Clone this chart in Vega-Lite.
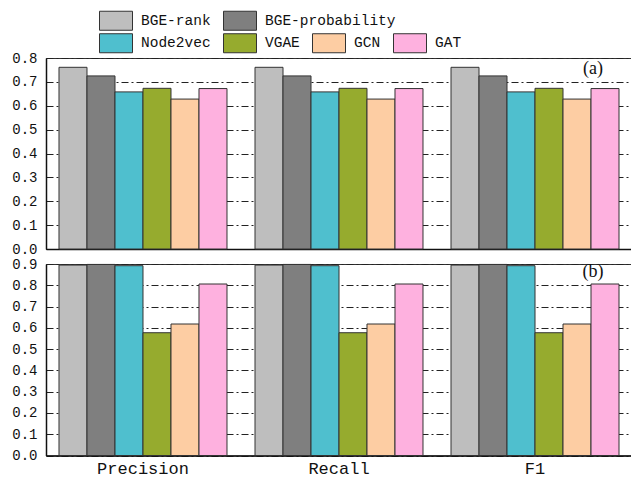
{
  "$schema": "https://vega.github.io/schema/vega-lite/v6.json",
  "padding": {"left": 0, "top": 3, "right": 0, "bottom": 4},
  "background": "white",
  "datasets": {
    "scores": [
      {"panel": "a", "metric": "Precision", "method": "BGE-rank", "value": 0.761},
      {"panel": "a", "metric": "Precision", "method": "BGE-probability", "value": 0.725},
      {"panel": "a", "metric": "Precision", "method": "Node2vec", "value": 0.658},
      {"panel": "a", "metric": "Precision", "method": "VGAE", "value": 0.673},
      {"panel": "a", "metric": "Precision", "method": "GCN", "value": 0.628},
      {"panel": "a", "metric": "Precision", "method": "GAT", "value": 0.672},
      {"panel": "a", "metric": "Recall", "method": "BGE-rank", "value": 0.761},
      {"panel": "a", "metric": "Recall", "method": "BGE-probability", "value": 0.725},
      {"panel": "a", "metric": "Recall", "method": "Node2vec", "value": 0.658},
      {"panel": "a", "metric": "Recall", "method": "VGAE", "value": 0.673},
      {"panel": "a", "metric": "Recall", "method": "GCN", "value": 0.628},
      {"panel": "a", "metric": "Recall", "method": "GAT", "value": 0.672},
      {"panel": "a", "metric": "F1", "method": "BGE-rank", "value": 0.761},
      {"panel": "a", "metric": "F1", "method": "BGE-probability", "value": 0.725},
      {"panel": "a", "metric": "F1", "method": "Node2vec", "value": 0.658},
      {"panel": "a", "metric": "F1", "method": "VGAE", "value": 0.673},
      {"panel": "a", "metric": "F1", "method": "GCN", "value": 0.628},
      {"panel": "a", "metric": "F1", "method": "GAT", "value": 0.672},
      {"panel": "b", "metric": "Precision", "method": "BGE-rank", "value": 0.895},
      {"panel": "b", "metric": "Precision", "method": "BGE-probability", "value": 0.898},
      {"panel": "b", "metric": "Precision", "method": "Node2vec", "value": 0.892},
      {"panel": "b", "metric": "Precision", "method": "VGAE", "value": 0.577},
      {"panel": "b", "metric": "Precision", "method": "GCN", "value": 0.618},
      {"panel": "b", "metric": "Precision", "method": "GAT", "value": 0.806},
      {"panel": "b", "metric": "Recall", "method": "BGE-rank", "value": 0.895},
      {"panel": "b", "metric": "Recall", "method": "BGE-probability", "value": 0.898},
      {"panel": "b", "metric": "Recall", "method": "Node2vec", "value": 0.892},
      {"panel": "b", "metric": "Recall", "method": "VGAE", "value": 0.577},
      {"panel": "b", "metric": "Recall", "method": "GCN", "value": 0.618},
      {"panel": "b", "metric": "Recall", "method": "GAT", "value": 0.806},
      {"panel": "b", "metric": "F1", "method": "BGE-rank", "value": 0.895},
      {"panel": "b", "metric": "F1", "method": "BGE-probability", "value": 0.898},
      {"panel": "b", "metric": "F1", "method": "Node2vec", "value": 0.892},
      {"panel": "b", "metric": "F1", "method": "VGAE", "value": 0.577},
      {"panel": "b", "metric": "F1", "method": "GCN", "value": 0.618},
      {"panel": "b", "metric": "F1", "method": "GAT", "value": 0.806}
    ]
  },
  "config": {
    "view": {"stroke": "#333", "strokeWidth": 1},
    "font": "Liberation Mono",
    "axis": {
      "labelFont": "Liberation Mono",
      "labelColor": "#111",
      "domainColor": "#111",
      "gridColor": "#222",
      "gridOpacity": 1,
      "gridDash": [7, 3, 2, 3],
      "gridWidth": 1,
      "ticks": false,
      "title": null
    },
    "legend": {
      "labelFont": "Liberation Mono",
      "labelFontSize": 14.5,
      "labelColor": "#111",
      "symbolType": "M-1,-0.576H1V0.576H-1Z",
      "symbolSize": 1089,
      "symbolStrokeColor": "#333",
      "symbolStrokeWidth": 1,
      "symbolOpacity": 1,
      "labelOffset": 8,
      "columnPadding": 10,
      "padding": 0,
      "title": null
    }
  },
  "bounds": "flush",
  "spacing": 15,
  "vconcat": [
    {
      "width": 586,
      "height": 191,
      "data": {"name": "scores"},
      "layer": [
        {
          "transform": [{"filter": "datum.panel === 'a' && (datum.method === 'BGE-rank' || datum.method === 'BGE-probability')"}],
          "mark": {"type": "bar", "stroke": "#333", "strokeWidth": 1, "fillOpacity": 1},
          "encoding": {
            "fill": {
              "field": "method", "type": "nominal",
              "scale": {"domain": ["BGE-rank", "BGE-probability"], "range": ["#bebebe", "#7f7f7f"]},
              "legend": {"orient": "none", "legendX": 53, "legendY": -54.5, "direction": "horizontal", "columns": 2, "title": null}
            }
          }
        },
        {
          "transform": [{"filter": "datum.panel === 'a' && datum.method !== 'BGE-rank' && datum.method !== 'BGE-probability'"}],
          "mark": {"type": "bar", "stroke": "#333", "strokeWidth": 1, "fillOpacity": 1},
          "encoding": {
            "fill": {
              "field": "method", "type": "nominal",
              "scale": {"domain": ["Node2vec", "VGAE", "GCN", "GAT"], "range": ["#4fbfce", "#96ab2e", "#fdcda3", "#feb1df"]},
              "legend": {"orient": "none", "legendX": 53, "legendY": -32, "direction": "horizontal", "columns": 4, "title": null}
            }
          }
        },
        {
          "transform": [{"filter": "datum.panel === 'a' && datum.metric === 'F1' && datum.method === 'GAT'"}],
          "mark": {"type": "text", "font": "Liberation Serif", "fontSize": 18, "fill": "#111", "align": "center", "baseline": "middle", "dx": -12},
          "encoding": {
            "y": {"datum": 0.752},
            "text": {"value": "(a)"}
          }
        }
      ],
      "encoding": {
        "x": {
          "field": "metric", "type": "nominal",
          "scale": {"domain": ["Precision", "Recall", "F1"], "paddingInner": 0.1429, "paddingOuter": 0.0663},
          "axis": {"labels": false, "domain": true, "domainWidth": 1.5, "title": null}
        },
        "xOffset": {
          "field": "method", "type": "nominal",
          "scale": {"domain": ["BGE-rank", "BGE-probability", "Node2vec", "VGAE", "GCN", "GAT"], "paddingInner": 0, "paddingOuter": 0}
        },
        "y": {
          "field": "value", "type": "quantitative",
          "scale": {"domain": [0, 0.8], "nice": false},
          "axis": {"values": [0, 0.1, 0.2, 0.3, 0.4, 0.5, 0.6, 0.7, 0.8], "format": ".1f", "grid": true, "minExtent": 45, "maxExtent": 45, "labelPadding": 9, "labelFontSize": 14, "domainWidth": 1.5, "title": null}
        }
      },
      "resolve": {"scale": {"fill": "independent"}}
    },
    {
      "width": 586,
      "height": 191.5,
      "data": {"name": "scores"},
      "layer": [
        {
          "transform": [{"filter": "datum.panel === 'b' && (datum.method === 'BGE-rank' || datum.method === 'BGE-probability')"}],
          "mark": {"type": "bar", "stroke": "#333", "strokeWidth": 1, "fillOpacity": 1},
          "encoding": {
            "fill": {
              "field": "method", "type": "nominal",
              "scale": {"domain": ["BGE-rank", "BGE-probability"], "range": ["#bebebe", "#7f7f7f"]},
              "legend": null
            }
          }
        },
        {
          "transform": [{"filter": "datum.panel === 'b' && datum.method !== 'BGE-rank' && datum.method !== 'BGE-probability'"}],
          "mark": {"type": "bar", "stroke": "#333", "strokeWidth": 1, "fillOpacity": 1},
          "encoding": {
            "fill": {
              "field": "method", "type": "nominal",
              "scale": {"domain": ["Node2vec", "VGAE", "GCN", "GAT"], "range": ["#4fbfce", "#96ab2e", "#fdcda3", "#feb1df"]},
              "legend": null
            }
          }
        },
        {
          "transform": [{"filter": "datum.panel === 'b' && datum.metric === 'F1' && datum.method === 'GAT'"}],
          "mark": {"type": "text", "font": "Liberation Serif", "fontSize": 18, "fill": "#111", "align": "center", "baseline": "middle", "dx": -12},
          "encoding": {
            "y": {"datum": 0.861},
            "text": {"value": "(b)"}
          }
        }
      ],
      "encoding": {
        "x": {
          "field": "metric", "type": "nominal",
          "scale": {"domain": ["Precision", "Recall", "F1"], "paddingInner": 0.1429, "paddingOuter": 0.0663},
          "axis": {"labels": true, "labelAngle": 0, "labelFontSize": 17, "labelPadding": 5, "domain": true, "domainWidth": 1.5, "title": null}
        },
        "xOffset": {
          "field": "method", "type": "nominal",
          "scale": {"domain": ["BGE-rank", "BGE-probability", "Node2vec", "VGAE", "GCN", "GAT"], "paddingInner": 0, "paddingOuter": 0}
        },
        "y": {
          "field": "value", "type": "quantitative",
          "scale": {"domain": [0, 0.9], "nice": false},
          "axis": {"values": [0, 0.1, 0.2, 0.3, 0.4, 0.5, 0.6, 0.7, 0.8, 0.9], "format": ".1f", "grid": true, "minExtent": 45, "maxExtent": 45, "labelPadding": 9, "labelFontSize": 14, "domainWidth": 1.5, "title": null}
        }
      },
      "resolve": {"scale": {"fill": "independent"}}
    }
  ]
}
